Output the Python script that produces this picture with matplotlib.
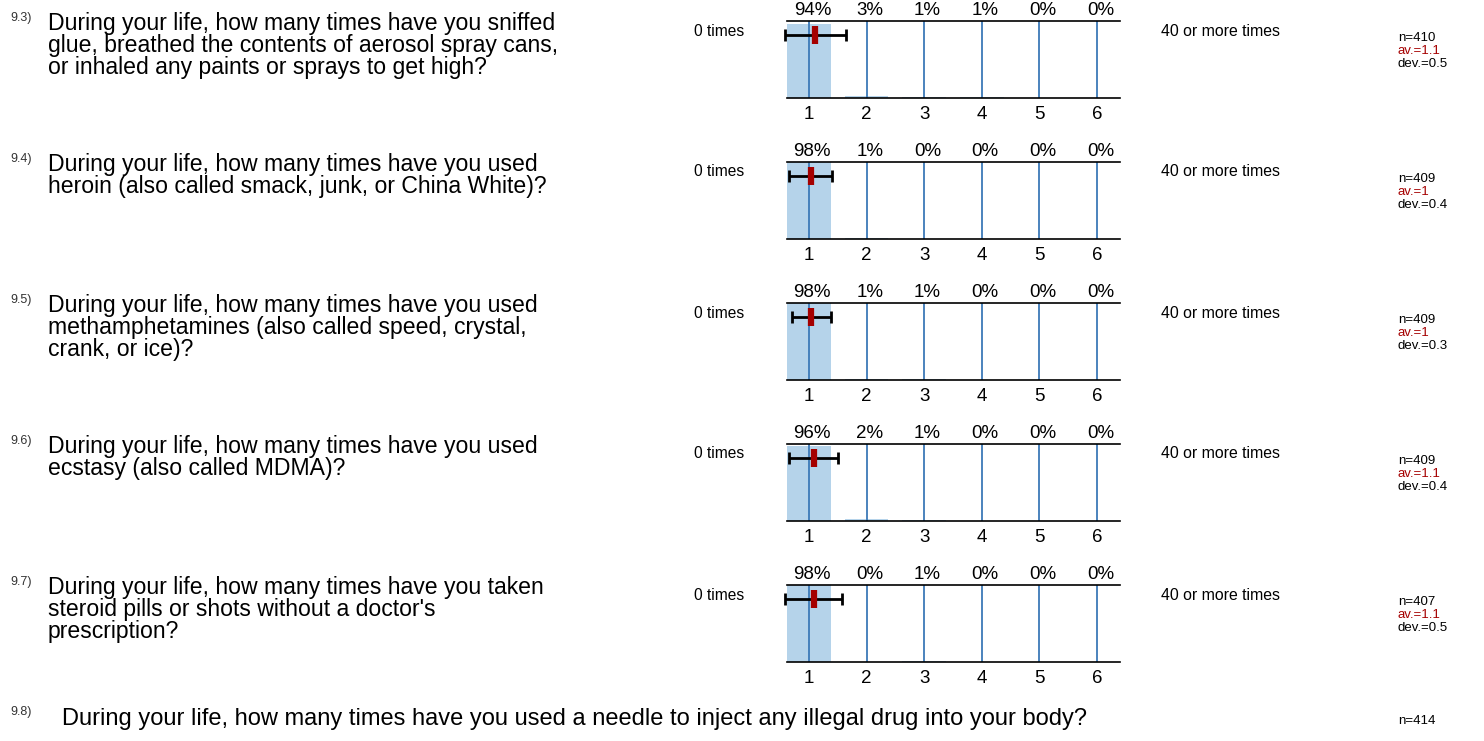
import matplotlib
matplotlib.use('Agg')
from matplotlib import pyplot as plt

plt.rcParams['font.family'] = ['Liberation Sans', 'DejaVu Sans']

numbers = ['9.3)', '9.4)', '9.5)', '9.6)', '9.7)']
questions = [
    'During your life, how many times have you sniffed\nglue, breathed the contents of aerosol spray cans,\nor inhaled any paints or sprays to get high?',
    'During your life, how many times have you used\nheroin (also called smack, junk, or China White)?',
    'During your life, how many times have you used\nmethamphetamines (also called speed, crystal,\ncrank, or ice)?',
    'During your life, how many times have you used\necstasy (also called MDMA)?',
    'During your life, how many times have you taken\nsteroid pills or shots without a doctor\'s\nprescription?',
]
categories = [1, 2, 3, 4, 5, 6]
percents = [
    [94, 3, 1, 1, 0, 0],
    [98, 1, 0, 0, 0, 0],
    [98, 1, 1, 0, 0, 0],
    [96, 2, 1, 0, 0, 0],
    [98, 0, 1, 0, 0, 0],
]
means = [1.11, 1.03, 1.04, 1.08, 1.08]
devs = [0.53, 0.37, 0.34, 0.42, 0.49]
counts = [410, 409, 409, 409, 407]
left_label = '0 times'
right_label = '40 or more times'

last_number = '9.8)'
last_question = 'During your life, how many times have you used a needle to inject any illegal drug into your body?'
last_count = 414

W, H = 1484, 741
BAR = '#b5d3ea'
LINE = '#3d7ab8'
RED = '#a50000'


def px(x, y):
    return x / W, 1 - y / H


fig = plt.figure(figsize=(W / 100, H / 100), dpi=100)

for i in range(5):
    top = 21 + 141 * i
    bottom = 98 + 141 * i
    ax = fig.add_axes([787 / W, 1 - bottom / H, 333 / W, (bottom - top) / H])
    ax.bar(categories, percents[i], width=0.76, color=BAR, zorder=1)
    for c in categories:
        ax.axvline(c, color=LINE, lw=1.3, zorder=2)
    eb = ax.errorbar(means[i], 80, xerr=devs[i], color='black', lw=2,
                     capsize=4, capthick=2, zorder=3)
    for art in eb.lines[1] + eb.lines[2]:
        art.set_clip_on(False)
    ax.plot(means[i], 80, marker='|', ms=13, mew=4.5, color=RED, zorder=4,
            clip_on=False)
    ax.set_xlim(0.62, 6.4)
    ax.set_ylim(0, 98)
    ax.set_xticks(categories)
    ax.set_xticklabels([str(c) for c in categories], fontsize=13.5)
    ax.tick_params(axis='x', length=0, pad=5.5)
    ax.set_yticks([])
    for s in ['left', 'right']:
        ax.spines[s].set_visible(False)
    for s in ['top', 'bottom']:
        ax.spines[s].set_linewidth(1.2)
    for c, p in zip(categories, percents[i]):
        ax.text(c + 0.06, 1.025, f'{p}%', transform=ax.get_xaxis_transform(),
                ha='center', va='bottom', fontsize=13.5)

    fig.text(*px(10, top - 3), numbers[i], fontsize=9, color='#333333',
             ha='left', va='center')
    fig.text(*px(48, top - 9), questions[i], fontsize=16.6, ha='left',
             va='top', linespacing=0.94)
    fig.text(*px(694, top + 10), left_label, fontsize=11.2, ha='left',
             va='center')
    fig.text(*px(1161, top + 10), right_label, fontsize=11.4, ha='left',
             va='center')
    fig.text(*px(1398, top + 17), f'n={counts[i]}', fontsize=9.5,
             ha='left', va='center')
    fig.text(*px(1398, top + 30), f'av.={round(means[i], 1):g}', fontsize=9.5,
             ha='left', va='center', color=RED)
    fig.text(*px(1398, top + 43), f'dev.={round(devs[i], 1):g}', fontsize=9.5,
             ha='left', va='center')

fig.text(*px(10, 712), last_number, fontsize=9, color='#333333',
         ha='left', va='center')
fig.text(*px(62, 719), last_question, fontsize=17, ha='left', va='center')
fig.text(*px(1398, 721), f'n={last_count}', fontsize=9.5, ha='left',
         va='center')

fig.savefig('out.png', dpi=100)
